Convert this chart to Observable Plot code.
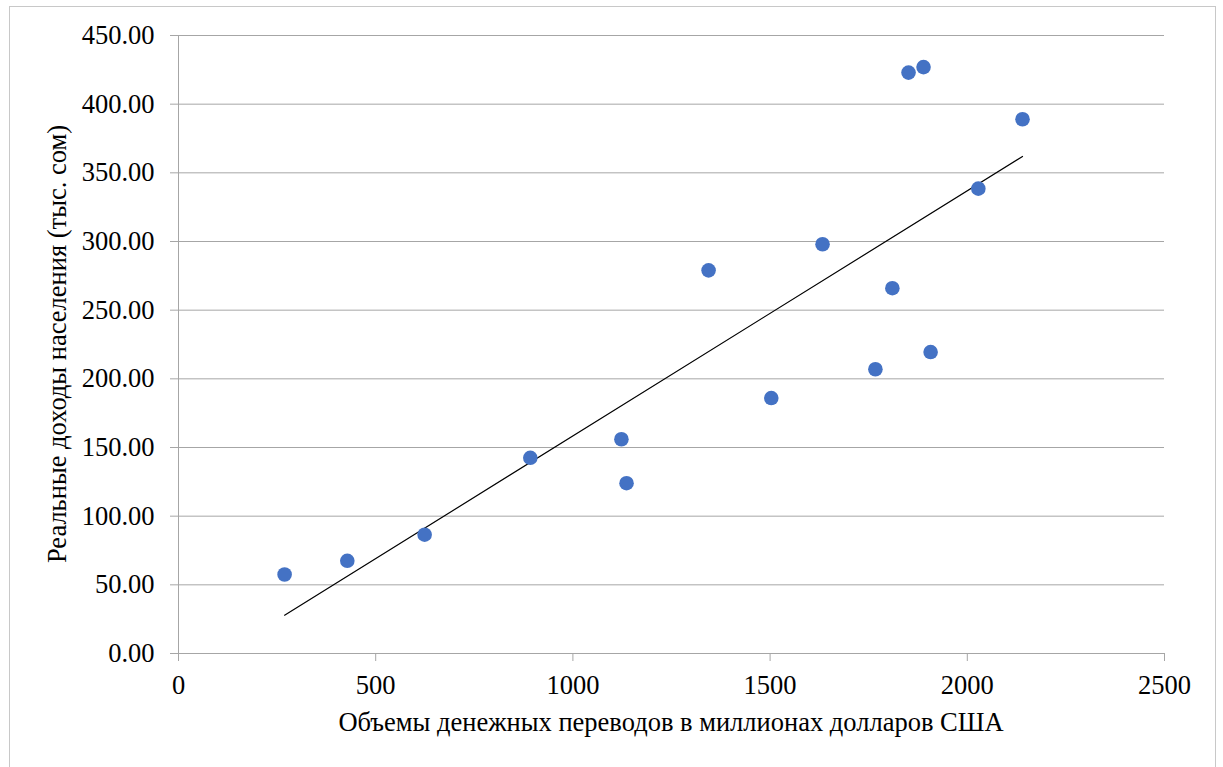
<!DOCTYPE html>
<html>
<head>
<meta charset="utf-8">
<script src="https://cdn.jsdelivr.net/npm/d3@7"></script>
<script src="https://cdn.jsdelivr.net/npm/@observablehq/plot@0.6"></script>
<style>
  html, body { margin: 0; padding: 0; background: #fff; }
  #wrap { position: relative; width: 1223px; height: 767px; overflow: hidden; }
  #border { position: absolute; left: 9px; top: 6px; width: 1207px; height: 800px; border: 1px solid #c8c8c8; box-sizing: border-box; }
  #chart { position: absolute; left: 0; top: 0; }
  .title { position: absolute; font-family: "Liberation Serif"; font-size: 26.5px; line-height: 1; white-space: nowrap; color: #000; }
  #xtitle { left: 671px; top: 709px; transform: translateX(-50%); }
  #ytitle { left: 57px; top: 344px; transform: translate(-50%, -50%) rotate(-90deg); }
</style>
</head>
<body>
<div id="wrap"><div id="border"></div><div id="chart"></div><div class="title" id="xtitle"></div><div class="title" id="ytitle"></div></div>
<script>
// Remittances (million USD) and real household income (thousand som)
const remittances = [269, 428, 624, 892, 1123, 1136, 1344, 1503, 1633, 1767, 1810, 1851, 1889, 1907, 2028, 2140];
const income = [57.5, 67.5, 86.5, 142.5, 156, 124, 279, 186, 298, 207, 266, 423, 427, 219.5, 338.5, 389];
const xTicks = [0, 500, 1000, 1500, 2000, 2500];
const yTicks = [0, 50, 100, 150, 200, 250, 300, 350, 400, 450];
const xTitle = "Объемы денежных переводов в миллионах долларов США";
const yTitle = "Реальные доходы населения (тыс. сом)";

const data = remittances.map((x, i) => ({x, y: income[i]}));
const FONT = "Liberation Serif";

const chart = Plot.plot({
  width: 1223,
  height: 767,
  marginLeft: 178,
  marginRight: 59,
  marginTop: 35,
  marginBottom: 114,
  style: {fontFamily: FONT, fontSize: "26.5px", color: "#000", background: "transparent"},
  x: {domain: [0, 2500]},
  y: {domain: [0, 450]},
  marks: [
    Plot.gridY(yTicks, {stroke: "#a6a6a6", strokeOpacity: 1, strokeWidth: 1}),
    Plot.ruleX([0], {y1: 0, y2: 450, stroke: "#a6a6a6", strokeWidth: 1}),
    Plot.axisY(yTicks, {tickSize: 8, tickPadding: 16, stroke: "#a6a6a6", tickFormat: d3.format(".2f"), label: null}),
    Plot.axisX(xTicks, {tickSize: 8, tickPadding: 14, stroke: "#a6a6a6", tickFormat: d => String(d), label: null}),
    Plot.linearRegressionY(data, {x: "x", y: "y", stroke: "black", strokeWidth: 1.2, ci: 0}),
    Plot.dot(data, {x: "x", y: "y", r: 7.3, fill: "#4472C4", stroke: "none"})
  ]
});
document.getElementById("chart").appendChild(chart);
document.getElementById("xtitle").textContent = xTitle;
document.getElementById("ytitle").textContent = yTitle;
</script>
</body>
</html>
